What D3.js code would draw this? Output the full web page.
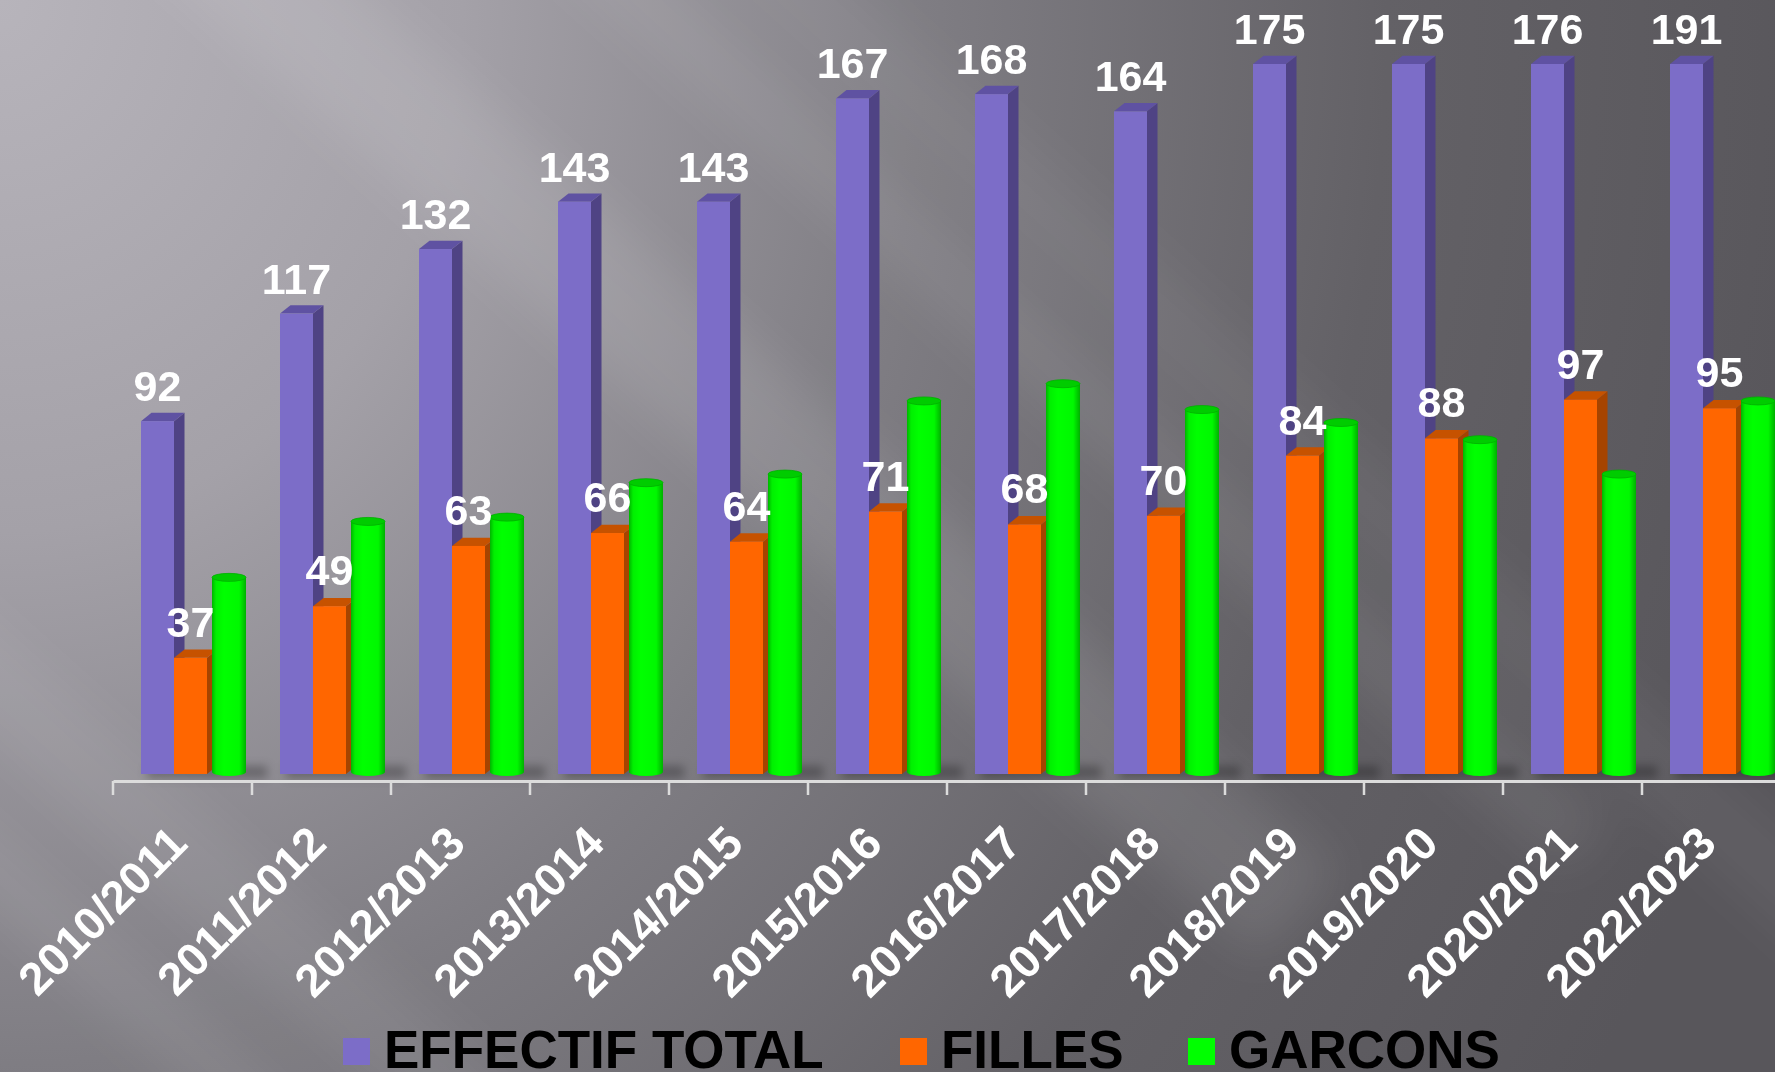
<!DOCTYPE html>
<html>
<head>
<meta charset="utf-8">
<script src="https://cdn.jsdelivr.net/npm/d3@7"></script>
<style>
  body { margin: 0; overflow: hidden; }
  svg { display: block; }
  text { font-family: "Liberation Sans", Arial, sans-serif; font-weight: bold; }
</style>
</head>
<body>
<script>
var categories = ["2010/2011", "2011/2012", "2012/2013", "2013/2014", "2014/2015", "2015/2016",
    "2016/2017", "2017/2018", "2018/2019", "2019/2020", "2020/2021", "2022/2023"];
var effectifTotal = [92, 117, 132, 143, 143, 167, 168, 164, 175, 175, 176, 191];
var filles = [37, 49, 63, 66, 64, 71, 68, 70, 84, 88, 97, 95];
var garcons = [55, 68, 69, 77, 79, 96, 100, 94, 91, 87, 79, 96];
var legendNames = ["EFFECTIF TOTAL", "FILLES", "GARCONS"];

var width = 1775, height = 1072;
var base = 774;      // floor of the bars
var axisY = 781;
var dx = 10.5, dy = -8.3;  // 3d depth

var svg = d3.select("body").append("svg")
    .attr("width", width)
    .attr("height", height);
var defs = svg.append("defs");

// background gradient
var bg = defs.append("radialGradient")
    .attr("id", "bg")
    .attr("gradientUnits", "userSpaceOnUse")
    .attr("cx", 0).attr("cy", 0).attr("r", 1850)
    .attr("gradientTransform", "translate(0,0) scale(1,1.15)");
bg.append("stop").attr("offset", "0").attr("stop-color", "#b7b4bb");
bg.append("stop").attr("offset", "0.25").attr("stop-color", "#a4a1a8");
bg.append("stop").attr("offset", "0.5").attr("stop-color", "#7f7d83");
bg.append("stop").attr("offset", "0.75").attr("stop-color", "#636166");
bg.append("stop").attr("offset", "1").attr("stop-color", "#58565b");

defs.append("filter").attr("id", "blur")
    .attr("x", "-50%").attr("y", "-50%").attr("width", "200%").attr("height", "200%")
    .append("feGaussianBlur").attr("stdDeviation", 25);
defs.append("filter").attr("id", "shadow")
    .attr("x", "-50%").attr("y", "-100%").attr("width", "200%").attr("height", "300%")
    .append("feGaussianBlur").attr("stdDeviation", 5);

var cyl = defs.append("linearGradient").attr("id", "cyl")
    .attr("x1", 0).attr("x2", 1).attr("y1", 0).attr("y2", 0);
cyl.append("stop").attr("offset", "0").attr("stop-color", "#00b400");
cyl.append("stop").attr("offset", "0.12").attr("stop-color", "#00f000");
cyl.append("stop").attr("offset", "0.35").attr("stop-color", "#00ff00");
cyl.append("stop").attr("offset", "0.8").attr("stop-color", "#00f800");
cyl.append("stop").attr("offset", "1").attr("stop-color", "#00b000");

svg.append("rect").attr("width", width).attr("height", height).attr("fill", "url(#bg)");

// soft diagonal light streaks
var streaks = [
    { x: 150, y: -200, w: 120, o: 0.10 },
    { x: 420, y: -250, w: 70, o: 0.08 },
    { x: -200, y: 450, w: 90, o: 0.07 },
    { x: -150, y: 700, w: 60, o: 0.08 },
    { x: 700, y: -150, w: 80, o: 0.05 }
];
svg.append("g").attr("filter", "url(#blur)")
    .selectAll("rect").data(streaks).enter().append("rect")
    .attr("x", 0).attr("y", 0)
    .attr("width", 1600).attr("height", function (d) { return d.w; })
    .attr("transform", function (d) { return "translate(" + d.x + "," + d.y + ") rotate(42)"; })
    .attr("fill", "#ffffff")
    .attr("opacity", function (d) { return d.o; });

// scales
var x = d3.scaleBand().domain(categories).range([113, 113 + 139 * categories.length]);
var y = d3.scaleLinear().domain([10, 175]).range([base, 64]).clamp(true);

// floor shadows
svg.append("g").attr("filter", "url(#shadow)")
    .selectAll("rect").data(categories).enter().append("rect")
    .attr("x", function (d) { return x(d) + 34; })
    .attr("y", base - 8)
    .attr("width", 120)
    .attr("height", 12)
    .attr("fill", "#000")
    .attr("opacity", 0.28);

// axis
var axis = svg.append("g")
    .attr("transform", "translate(0," + axisY + ")")
    .call(d3.axisBottom(x).tickSize(0).tickSizeOuter(0));
axis.select(".domain").attr("stroke", "#dcdcdc").attr("stroke-width", 3);
axis.selectAll(".tick text")
    .attr("fill", "#ffffff")
    .attr("font-size", 46)
    .attr("font-family", "Liberation Sans, Arial, sans-serif")
    .attr("font-weight", "bold")
    .attr("text-anchor", "end")
    .attr("y", 0).attr("dy", 0)
    .attr("transform", "translate(7,65) rotate(-45)");
axis.selectAll(".boundary").data(categories).enter().append("line")
    .attr("class", "boundary")
    .attr("x1", function (d) { return x(d); })
    .attr("x2", function (d) { return x(d); })
    .attr("y1", 0).attr("y2", 14)
    .attr("stroke", "#dcdcdc").attr("stroke-width", 2.5);

// 3d box bars
function drawBoxes(values, offset, colors) {
    var g = svg.append("g").selectAll("g").data(categories).enter().append("g");
    var x0 = function (d) { return x(d) + offset; };
    var x1 = function (d) { return x(d) + offset + 33; };
    g.append("path")
        .attr("d", function (d, i) {
            var t = y(values[i]);
            return "M" + x1(d) + "," + t + "L" + (x1(d) + dx) + "," + (t + dy) +
                "L" + (x1(d) + dx) + "," + (base + dy) + "L" + x1(d) + "," + base + "Z";
        })
        .attr("fill", colors.side);
    g.append("path")
        .attr("d", function (d, i) {
            var t = y(values[i]);
            return "M" + x0(d) + "," + t + "L" + (x0(d) + dx) + "," + (t + dy) +
                "L" + (x1(d) + dx) + "," + (t + dy) + "L" + x1(d) + "," + t + "Z";
        })
        .attr("fill", colors.top);
    g.append("rect")
        .attr("x", x0)
        .attr("y", function (d, i) { return y(values[i]); })
        .attr("width", 33)
        .attr("height", function (d, i) { return base - y(values[i]); })
        .attr("fill", colors.front);
}

drawBoxes(effectifTotal, 28, { front: "#7c6dc8", side: "#4f4384", top: "#5f52a2" });
drawBoxes(filles, 61, { front: "#ff6600", side: "#a64400", top: "#c65200" });

// cylinders
var cg = svg.append("g").selectAll("g").data(categories).enter().append("g");
cg.append("ellipse")
    .attr("cx", function (d) { return x(d) + 116; })
    .attr("cy", base - 2)
    .attr("rx", 17).attr("ry", 4)
    .attr("fill", "url(#cyl)");
cg.append("rect")
    .attr("x", function (d) { return x(d) + 99; })
    .attr("y", function (d, i) { return y(garcons[i]) - 3; })
    .attr("width", 34)
    .attr("height", function (d, i) { return base - 2 - y(garcons[i]) + 3; })
    .attr("fill", "url(#cyl)");
cg.append("ellipse")
    .attr("cx", function (d) { return x(d) + 116; })
    .attr("cy", function (d, i) { return y(garcons[i]) - 3; })
    .attr("rx", 17).attr("ry", 4)
    .attr("fill", "#00cc00")
    .attr("stroke", "#00b000")
    .attr("stroke-width", 0.8);

// value labels
svg.append("g").selectAll("text").data(categories).enter().append("text")
    .attr("x", function (d) { return x(d) + 28 + 16.5; })
    .attr("y", function (d, i) { return y(effectifTotal[i]) - 20; })
    .attr("text-anchor", "middle")
    .attr("font-size", 43)
    .attr("fill", "#ffffff")
    .text(function (d, i) { return effectifTotal[i]; });
svg.append("g").selectAll("text").data(categories).enter().append("text")
    .attr("x", function (d) { return x(d) + 61 + 16.5; })
    .attr("y", function (d, i) { return y(filles[i]) - 21; })
    .attr("text-anchor", "middle")
    .attr("font-size", 43)
    .attr("fill", "#ffffff")
    .text(function (d, i) { return filles[i]; });

// legend
var legendX = [343, 900, 1188];
var legendColors = ["#7c6dc8", "#ff6600", "#00ff00"];
var lg = svg.append("g").selectAll("g").data(legendNames).enter().append("g")
    .attr("transform", function (d, i) { return "translate(" + legendX[i] + ",1038)"; });
lg.append("rect")
    .attr("width", 27).attr("height", 27)
    .attr("fill", function (d, i) { return legendColors[i]; });
lg.append("text")
    .attr("x", 41).attr("y", 30)
    .attr("font-size", 53)
    .attr("fill", "#000000")
    .text(function (d) { return d; });
</script>
</body>
</html>
